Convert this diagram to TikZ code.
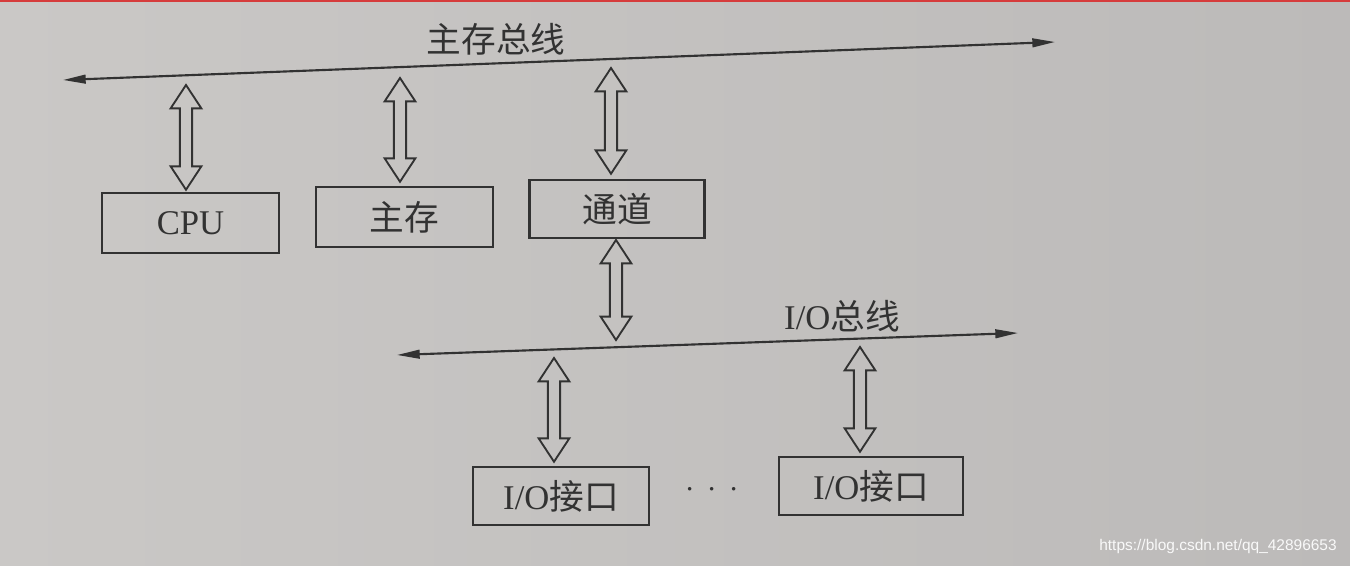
\documentclass[tikz,border=0pt]{standalone}
\usepackage{fontspec}
\setmainfont{Liberation Serif}
\newfontfamily\cjk{Noto Sans CJK SC}
\newfontfamily\wmfont{Liberation Sans}
\usetikzlibrary{arrows.meta,calc}
\definecolor{paperL}{RGB}{202,200,198}
\definecolor{paperR}{RGB}{188,186,185}
\definecolor{ink}{RGB}{50,50,50}
\definecolor{edge}{RGB}{214,60,60}
\newcommand\dblarrow[2]{%
  \draw[harrow] let \p1=#1, \p2=#2 in
    (\x1,\y1) -- (\x1+11.5pt,\y1-17.5pt) -- (\x1+4.6pt,\y1-17.5pt)
    -- (\x1+4.6pt,\y2+17.5pt) -- (\x1+11.5pt,\y2+17.5pt) -- (\x1,\y2)
    -- (\x1-11.5pt,\y2+17.5pt) -- (\x1-4.6pt,\y2+17.5pt)
    -- (\x1-4.6pt,\y1-17.5pt) -- (\x1-11.5pt,\y1-17.5pt) -- cycle;}
\tikzset{
  box/.style={draw=ink, line width=1.9pt, inner sep=0pt, text=ink,
    font=\fontsize{26}{26}\selectfont},
  bus/.style={draw=ink, line width=1.6pt,
    {Triangle[length=17pt,width=6.5pt]}-{Triangle[length=17pt,width=6.5pt]}},
  harrow/.style={draw=ink, line width=1.4pt, line join=miter},
  lbl/.style={inner sep=0pt, text=ink, font=\fontsize{26}{26}\selectfont},
}
\begin{document}
\begin{tikzpicture}[x=0.75pt,y=-0.75pt]
\useasboundingbox (0,0) rectangle (1350,566);
\shade[left color=paperL, right color=paperR] (0,0) rectangle (1350,566);
\fill[edge] (0,0) rectangle (1350,2.5);

% main memory bus
\coordinate (b1l) at (63,80);
\coordinate (b1r) at (1055,42);
\draw[bus] (b1l) -- (b1r);
\node[lbl] (lb1) at (496,39) {\cjk 主存总线};

% upper boxes
\node[box, minimum width=132.75pt, minimum height=45pt] (cpu) at (190.5,223) {CPU};
\node[box, minimum width=132.75pt, minimum height=45pt] (mem) at (404.5,217) {\cjk 主存};
\node[box, minimum width=131.25pt, minimum height=43.5pt] (chan) at (617,209) {\cjk 通道};

\coordinate (a1) at (186,85);
\coordinate (a2) at (400,78);
\coordinate (a3) at (611,68);
\dblarrow{(a1)}{($(cpu.north)+(0,-2)$)}
\dblarrow{(a2)}{($(mem.north)+(0,-4)$)}
\dblarrow{(a3)}{($(chan.north)+(0,-5)$)}

% I/O bus
\coordinate (b2l) at (397,355);
\coordinate (b2r) at (1018,333);
\draw[bus] (b2l) -- (b2r);
\node[lbl] (lb2) at (842,316) {I/O\cjk 总线};

\coordinate (a4) at (616,240);
\coordinate (a4b) at (616,340);
\dblarrow{(a4)}{(a4b)}

% I/O interfaces
\node[box, minimum width=132pt, minimum height=43.5pt] (io1) at (561,496) {I/O\cjk 接口};
\node[box, minimum width=138pt, minimum height=43.5pt] (io2) at (871,486) {I/O\cjk 接口};
\node[lbl, font=\fontsize{34}{34}\selectfont] (dots) at (712,490) {$\cdot\,\cdot\,\cdot$};

\coordinate (a5) at (554,358);
\coordinate (a6) at (860,347);
\dblarrow{(a5)}{($(io1.north)+(0,-4)$)}
\dblarrow{(a6)}{($(io2.north)+(0,-4)$)}

\node[inner sep=0pt, text=white!95!gray, font=\wmfont\fontsize{11.6}{11.6}\selectfont] (wm) at (1218,547) {https://blog.csdn.net/qq\_42896653};
\end{tikzpicture}
\end{document}
